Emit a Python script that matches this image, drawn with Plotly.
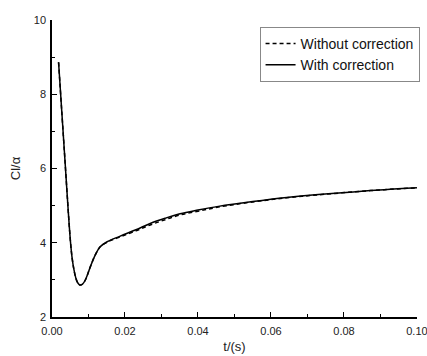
import plotly.graph_objects as go

t_with = [0.0018, 0.0034, 0.0050, 0.0055, 0.0060, 0.0065, 0.0070, 0.0077, 0.0084, 0.0091,
          0.0098, 0.0105, 0.0118, 0.0132, 0.0150, 0.0187, 0.0230, 0.0269, 0.0310, 0.0351,
          0.0400, 0.0456, 0.0550, 0.0643, 0.0730, 0.0825, 0.0910, 0.1000]
cl_with = [8.86, 6.45, 4.10, 3.60, 3.28, 3.06, 2.93, 2.86, 2.89, 2.99,
           3.16, 3.35, 3.66, 3.89, 4.02, 4.18, 4.35, 4.52, 4.66, 4.78,
           4.88, 4.98, 5.11, 5.22, 5.30, 5.37, 5.43, 5.48]

t_without = t_with
cl_without = [8.86, 6.45, 4.10, 3.60, 3.28, 3.06, 2.93, 2.86, 2.89, 2.99,
              3.16, 3.35, 3.66, 3.89, 4.01, 4.16, 4.32, 4.48, 4.62, 4.75,
              4.85, 4.96, 5.10, 5.21, 5.29, 5.37, 5.43, 5.48]

x_ticks = [0.00, 0.02, 0.04, 0.06, 0.08, 0.10]
y_ticks = [2, 4, 6, 8, 10]

font = "Liberation Sans, Arial, sans-serif"

fig = go.Figure()
fig.add_trace(go.Scatter(x=t_without, y=cl_without, mode="lines", name="Without correction",
                         line=dict(color="black", width=1.5, dash="4px,3px", shape="spline", smoothing=1.0)))
fig.add_trace(go.Scatter(x=t_with, y=cl_with, mode="lines", name="With correction",
                         line=dict(color="black", width=1.5, shape="spline", smoothing=1.0)))

axis_common = dict(showgrid=False, zeroline=False, showline=True, linecolor="black", linewidth=1.5,
                   ticks="inside", ticklen=5, tickwidth=1.2, tickcolor="black",
                   tickfont=dict(family=font, size=11, color="#222"))

fig.update_layout(
    width=427, height=356,
    margin=dict(l=52, r=10, t=20, b=39, autoexpand=False),
    paper_bgcolor="white", plot_bgcolor="white",
    font=dict(family=font, color="#222"),
    xaxis=dict(range=[0, 0.10001], tickvals=x_ticks, tickformat=".2f", ticklabelstandoff=3,
               ticklabeloverflow="allow",
               title=dict(text="t/(s)", font=dict(family=font, size=13), standoff=6),
               minor=dict(dtick=0.01, ticks="inside", ticklen=3, tickcolor="black"),
               **axis_common),
    yaxis=dict(range=[2, 10], tickvals=y_ticks, ticklabelstandoff=2,
               title=dict(text="Cl/α", font=dict(family=font, size=13), standoff=10),
               minor=dict(dtick=1, ticks="inside", ticklen=3, tickcolor="black"),
               **axis_common),
    legend=dict(x=1.007, xanchor="right", y=0.977, yanchor="top",
                bordercolor="#888", borderwidth=1, bgcolor="white",
                font=dict(family=font, size=14, color="#111"),
                tracegroupgap=0),
    showlegend=True,
)

fig.write_html("out.html")
